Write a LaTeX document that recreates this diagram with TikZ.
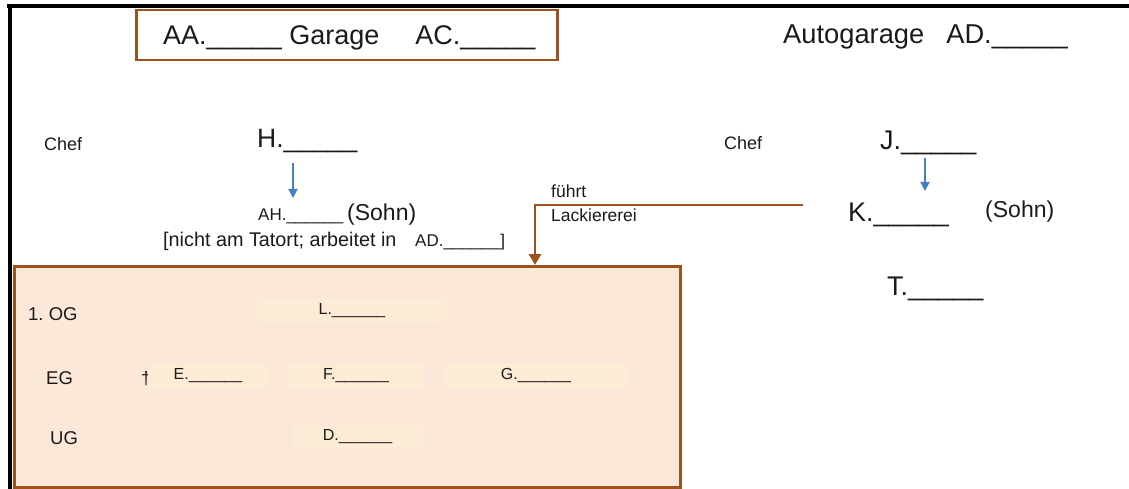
\documentclass[tikz,border=0pt]{standalone}
\usepackage{fontspec}
\setmainfont{Liberation Sans}
\usetikzlibrary{arrows.meta}
\frenchspacing
\definecolor{brn}{HTML}{A0521E}
\definecolor{boxfill}{HTML}{FCE8D9}
\definecolor{barfill}{HTML}{FDECD5}
\definecolor{blu}{HTML}{4A7EC2}
\definecolor{txtc}{HTML}{1A1A1A}
\tikzset{
  fs/.style={font=\fontsize{#1}{#1}\selectfont},
  txt/.style={inner sep=0pt, anchor=base west, text=txtc},
  bar/.style={fill=barfill, inner sep=0pt, minimum height=24pt, text=txtc, font=\fontsize{16}{16}\selectfont},
  bluearrow/.style={draw=blu, line width=1.8pt, -{Triangle[length=9pt,width=9pt]}},
  brownarrow/.style={draw=brn, line width=2.6pt, -{Triangle[length=11pt,width=12pt]}},
}
\begin{document}
\begin{tikzpicture}[x=1pt,y=-1pt]
\useasboundingbox (0,0) rectangle (1129,489);
% frame
\draw[line width=4pt, black] (7,6) -- (1129,6);
\draw[line width=4pt, black] (9.5,4) -- (9.5,489);
% top title box
\node[draw=brn, line width=2.4pt, minimum width=421pt, minimum height=50pt, inner sep=0pt] (titlebox) at (347,35) {};
\node[txt, fs=27] (aa) at (163,45) {AA.\_\_\_\_\_ Garage\hspace{36pt}AC.\_\_\_\_\_};
\node[txt, fs=27.3] (auto) at (783,44) {Autogarage\hspace{22pt}AD.\_\_\_\_\_};
% left company
\node[txt, fs=18] (chef1) at (44,151) {Chef};
\node[txt, fs=26.5] (h) at (257,148) {H.\_\_\_\_\_};
\node[txt, fs=17] (ah) at (258,220) {AH.\_\_\_\_\_\_};
\node[txt, fs=23] (sohn1) at (347,220) {(Sohn)};
\node[txt, fs=19.8] (nicht) at (163,246) {[nicht am Tatort; arbeitet in};
\node[txt, fs=17] (ad2) at (415,246) {AD.\_\_\_\_\_\_]};
\coordinate (b1s) at (293,163);
\coordinate (b1e) at (293,198);
\draw[bluearrow] (b1s) -- (b1e);
% right company
\node[txt, fs=18] (chef2) at (724,150) {Chef};
\node[txt, fs=27] (j) at (880,150) {J.\_\_\_\_\_};
\coordinate (b2s) at (925,158);
\coordinate (b2e) at (925,191);
\draw[bluearrow] (b2s) -- (b2e);
\node[txt, fs=27] (k) at (848,222) {K.\_\_\_\_\_};
\node[txt, fs=23] (sohn2) at (985,217) {(Sohn)};
\node[txt, fs=27] (t) at (887,295) {T.\_\_\_\_\_};
% link
\node[txt, fs=17.5] (fuehrt) at (551,197) {führt};
\node[txt, fs=17.5] (lack) at (551,221) {Lackiererei};
% floor box
\node[draw=brn, fill=boxfill, line width=3pt, minimum width=666pt, minimum height=221pt, inner sep=0pt] (floor) at (347,376.5) {};
\coordinate (lks) at (803,205);
\coordinate (lke) at (535,265);
\draw[brownarrow] (lks) -| (lke);
% floor labels
\node[txt, fs=18.5] (og) at (28,320) {1. OG};
\node[txt, fs=18.5] (eg) at (46,384) {EG};
\node[txt, fs=18.5] (ug) at (50,444) {UG};
\node[txt, fs=18] (dag) at (141,384) {†};
% bars
\node[bar, minimum width=190pt] (l) at (352,311) {L.\_\_\_\_\_\_};
\node[bar, minimum width=120pt] (e) at (208,376) {E.\_\_\_\_\_\_};
\node[bar, minimum width=138pt] (f) at (356,376) {F.\_\_\_\_\_\_};
\node[bar, minimum width=184pt] (g) at (536,376) {G.\_\_\_\_\_\_};
\node[bar, minimum width=129pt] (d) at (357.5,437) {D.\_\_\_\_\_\_};
\end{tikzpicture}
\end{document}
